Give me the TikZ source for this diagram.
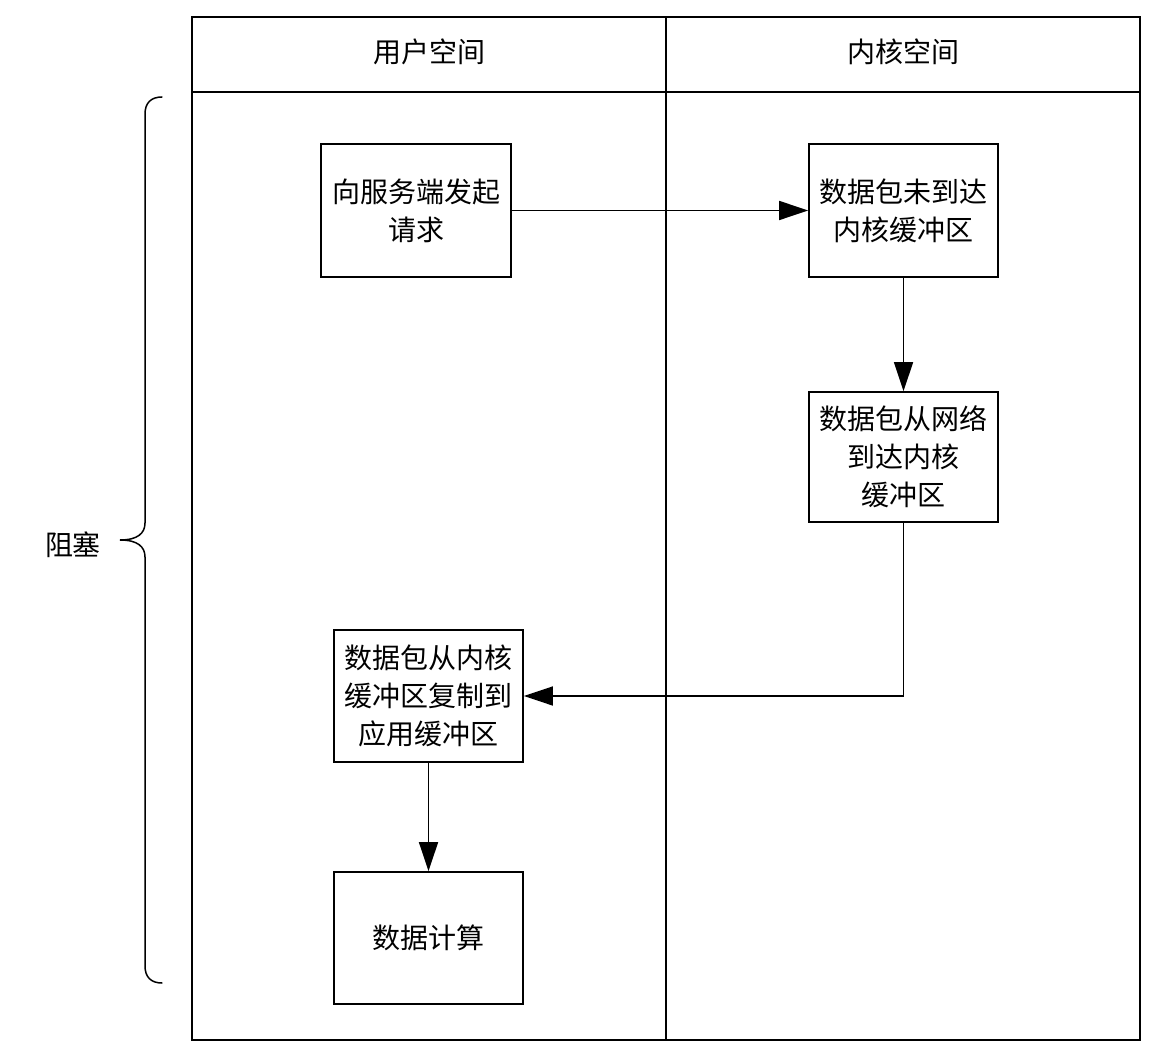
\documentclass[tikz,border=0pt]{standalone}
\usepackage{fontspec}
\newfontfamily\cjk{Noto Sans CJK SC}
\usetikzlibrary{arrows.meta}
\begin{document}
\begin{tikzpicture}[x=1pt,y=-1pt,
  line width=1.6pt,
  every node/.style={font=\cjk\fontsize{28}{38}\selectfont},
  stepbox/.style={draw, line width=1.6pt, inner sep=0pt, align=center},
  flow/.style={-{Triangle[length=29pt,width=19pt]}, line width=1.4pt}]
\useasboundingbox (0,0) rectangle (1165,1056);
% frame
\draw (192,17) rectangle (1140,1040);
\draw (192,92) -- (1140,92);
\draw (666,17) -- (666,1040);
\node (h1) at (429,52) {用户空间};
\node (h2) at (903,52) {内核空间};
% boxes
\node[stepbox, minimum width=190pt, minimum height=133pt] (b1) at (416,210.5) {向服务端发起\\请求};
\node[stepbox, minimum width=189pt, minimum height=133pt] (b2) at (903.5,210.5) {数据包未到达\\内核缓冲区};
\node[stepbox, minimum width=189pt, minimum height=130pt] (b3) at (903.5,457) {数据包从网络\\到达内核\\缓冲区};
\node[stepbox, minimum width=189pt, minimum height=132pt] (b4) at (428.5,696) {数据包从内核\\缓冲区复制到\\应用缓冲区};
\node[stepbox, minimum width=189pt, minimum height=132pt] (b5) at (428.5,938) {数据计算};
% arrows
\draw[flow] (b1.east) -- (b2.west);
\draw[flow] (b2.south) -- (b3.north);
\coordinate (c1) at (b3.south |- b4.east);
\draw[flow] (b3.south) -- (c1) -- (b4.east);
\draw[flow] (b4.south) -- (b5.north);
% brace
\draw[line width=1.5pt, line cap=round]
  (162,97) .. controls (151,97) and (145,103) .. (145,114)
  -- (145,523) .. controls (145,533) and (138,540) .. (120,540)
  .. controls (138,540) and (145,547) .. (145,557)
  -- (145,966) .. controls (145,977) and (151,983) .. (162,983);
\node (lbl) at (73,545) {阻塞};
\end{tikzpicture}
\end{document}
